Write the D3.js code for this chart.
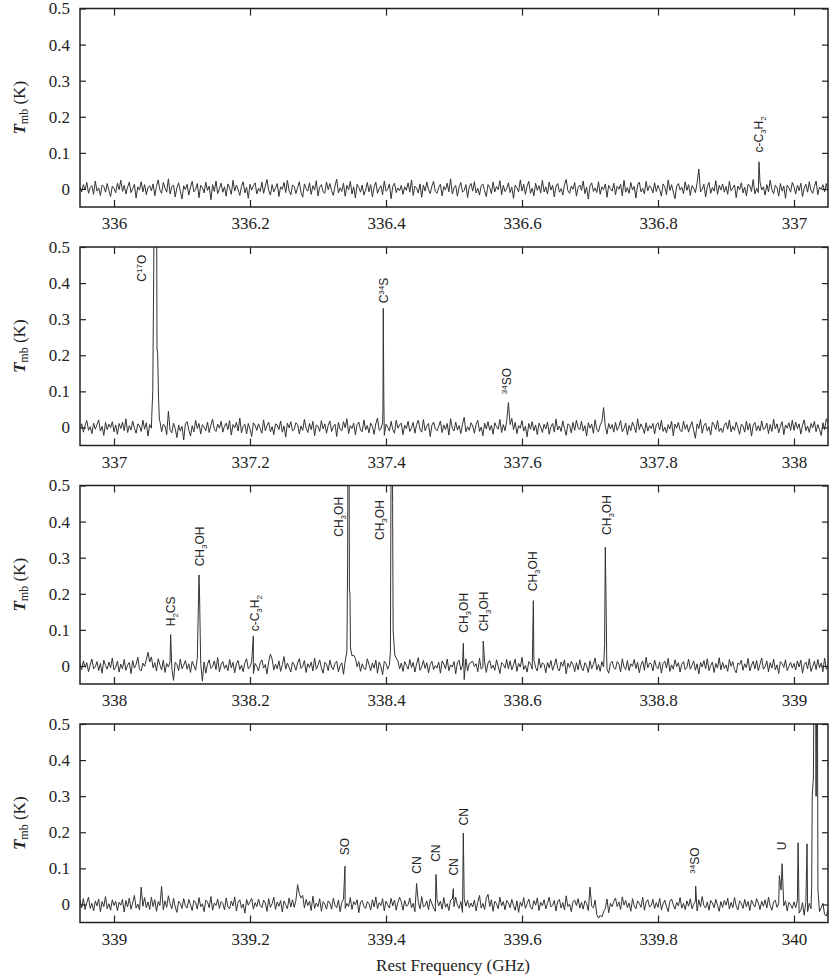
<!DOCTYPE html>
<html>
<head>
<meta charset="utf-8">
<script src="https://cdn.jsdelivr.net/npm/d3@7"></script>
<style>
body { margin: 0; background: #fff; }
.tick line { stroke: #222; stroke-width: 1.2; }
.mol { font-family: "Liberation Sans", Arial, sans-serif; font-size: 12px; fill: #222; }
.ttl { font-family: "Liberation Serif", "Times New Roman", serif; font-size: 17px; fill: #222; }
</style>
</head>
<body>
<svg id="chart" width="830" height="978"></svg>
<script>
// panel start frequency (GHz), channel step of the noise arrays
var panelStart = [335.95, 336.95, 337.95, 338.95];
var step = 0.0025;

// baseline noise, mK, one value per channel
var noise1 = [
5,-8,12,-3,18,-12,4,9,-15,22,-6,3,-18,11,7,-9,15,-4,-21,8,2,
-11,16,-2,24,-7,10,-14,5,19,-10,1,13,-25,6,-3,20,-8,12,-16,4,9,
-5,14,-19,7,25,-3,-12,18,2,-9,28,-14,6,11,-22,3,17,-6,-28,9,-2,
13,-17,5,21,-8,-1,15,-24,10,4,-11,19,-4,8,-30,12,-7,22,-13,1,16,
-9,6,-20,14,3,-15,24,-6,11,-2,-18,7,20,-11,5,-26,13,-3,9,17,-14,
2,-7,19,-12,8,26,-4,-17,12,-8,3,15,-21,6,-1,18,-10,24,-5,-16,11,
7,-13,4,20,-9,-23,14,1,-6,17,-15,9,-3,23,-19,5,12,-8,-12,19,-2,
15,-5,-18,8,27,-11,3,-7,16,-20,10,-2,21,-14,6,-25,13,4,-9,11,-17,
-3,18,-8,12,-22,5,19,-12,1,9,-16,22,-6,-1,14,-27,7,16,-10,3,-5,
10,-15,6,-4,17,-9,25,-18,8,2,-11,14,-23,11,-6,19,-2,-13,8,21,-7,
-12,4,13,-19,7,-3,16,-8,28,-14,3,10,-20,5,18,-9,-4,12,-24,6,15,
-6,20,-11,2,-17,9,14,-5,-21,12,4,-13,19,-8,7,-2,23,-16,10,-7,1,
17,-10,5,-26,11,3,-8,25,-6,13,-15,8,21,-12,2,-19,16,-4,9,-11,24,
-8,6,-14,19,-3,10,-22,7,15,-9,1,-17,12,26,-5,-12,8,-1,18,-20,4,
11,-4,22,-13,5,-28,9,17,-7,3,-10,20,-15,6,-2,14,-23,10,1,-6,16,
-16,8,-1,13,-19,24,-9,4,-12,18,-3,7,-25,11,19,-8,2,-14,21,-5,9,
3,-11,17,-7,10,-2,-20,14,6,-16,25,-4,12,-9,-27,8,15,-3,5,-13,20,
-4,12,-18,9,2,-10,16,55,-8,-1,13,-22,6,18,-12,4,-6,23,-15,10,-3,
14,-9,7,-15,21,-5,3,11,-24,8,-2,17,-11,5,-19,13,9,-7,26,-14,2,
-10,19,-3,6,-17,12,-8,24,-2,-13,10,4,-20,15,-6,8,-26,11,3,-9,18,
6,-14,10,-5,16,-21,2,13,-9,20,-4,-12,7,22,-16,5,-1,12,-8,15,-6
];
var noise2 = [
-4,10,-13,6,19,-8,2,-17,12,-5,8,21,-10,3,-22,14,-6,9,-1,16,-12,
7,-19,11,-3,15,-9,24,-14,5,-7,18,-2,-16,10,4,-11,20,-5,13,-24,8,
-2,14,25,30,-6,18,-12,9,4,-20,45,-8,-15,12,-3,-28,7,-10,3,-35,10,
16,-7,-24,5,-12,20,-3,11,-18,8,1,-9,15,-14,6,23,-5,-11,9,-2,17,
-13,4,12,-6,19,-21,8,-1,14,-10,26,-15,3,9,-18,11,-4,-25,13,6,-8,
10,-3,-16,21,-9,5,15,-12,2,-20,10,7,-6,18,-13,4,-27,12,-1,16,-10,
-5,13,8,-18,4,-8,22,-2,-14,11,-6,17,-23,7,3,-11,19,-4,10,-16,6,
18,-11,2,9,-25,14,-5,-9,16,-1,24,-17,5,-3,12,-20,8,15,-7,-12,21,
-7,5,-15,12,3,-19,10,26,-8,-4,13,-22,9,1,-10,17,-6,-16,20,-2,7,
12,-20,6,-3,17,-11,-1,14,-16,8,20,-5,-13,22,-9,4,11,-25,6,15,-4,
-9,3,18,-14,7,-6,11,-21,24,-2,-10,15,-7,5,-17,9,28,-12,2,-8,13,
4,-16,9,20,-11,1,-23,12,-4,16,-8,6,-19,13,2,-5,22,-14,8,-9,17,
-12,8,25,-6,14,-17,5,-2,19,-10,3,-26,11,-5,16,-9,7,-20,12,1,-14,
9,-4,15,-19,2,11,-13,23,-7,4,-11,18,-3,-22,10,6,-15,14,-8,20,-1,
-6,17,-10,5,-24,13,-2,9,-16,21,-5,-12,7,16,55,3,-18,11,-4,8,-13,
14,-8,3,19,-12,-3,12,-20,6,-9,15,2,-14,24,-6,10,-1,-17,13,-10,5,
-3,11,-18,7,13,-7,20,-11,1,-15,8,-4,17,-23,9,-2,14,-8,-12,18,-5,
8,-13,4,16,-9,-30,10,-3,22,-16,5,12,-10,2,-21,15,7,-6,19,-11,-2,
-14,6,13,-5,21,-12,3,-8,15,-1,-19,9,4,-13,17,-7,11,-24,6,14,-9,
5,-10,18,-6,-2,12,-17,8,-11,23,-4,10,-15,3,16,-20,7,-2,13,-8,20,
-8,15,-3,10,-18,6,21,-9,4,-14,11,-1,17,-12,8,-5,-22,13,-6,24,10
];
var noise3 = [
6,-10,14,-4,9,-16,3,19,-8,-2,12,-13,7,-20,16,1,-9,11,-5,22,-11,
-3,13,-17,5,-8,18,-12,2,10,-21,15,-6,4,24,-9,-14,8,-1,17,38,11,
25,-5,9,-14,20,3,-11,16,-18,7,-3,12,-6,-40,10,4,-13,19,-8,2,15,
-9,6,-18,13,1,-12,21,-4,8,-42,11,-20,5,17,-7,-2,14,-10,23,-16,4,
12,-7,3,-13,18,-5,10,-19,6,15,-10,2,-16,9,20,-8,-3,13,-21,7,-1,
-14,9,17,-6,4,-22,12,33,19,-11,5,-8,14,-15,3,26,-9,8,-4,-17,11,
3,-12,8,20,-7,-1,15,-18,6,-4,11,-14,22,-9,2,17,-6,-20,10,5,-13,
16,-3,-10,7,13,-16,1,9,-23,14,-30,18,35,28,30,21,-2,12,-15,6,-7,
-10,20,4,-13,8,-6,16,-20,11,-1,-24,13,7,-9,3,-15,10,40,22,14,-8,
8,-15,12,2,-9,18,-4,10,-17,6,23,-12,-2,15,-7,9,-19,4,13,-10,1,
-6,11,-20,14,5,-8,19,-13,3,-3,12,-22,9,16,-11,2,-38,20,-14,7,10,
13,-2,6,-16,21,-9,-4,11,-18,8,15,-7,2,-12,17,-1,-21,9,4,-6,18,
-8,14,-11,3,19,-15,7,-3,24,-10,1,-17,12,6,-9,16,-4,-14,21,-6,9,
4,-19,10,-5,15,-12,2,20,-7,-14,11,-1,17,-22,8,-4,13,3,-16,9,-11,
17,-6,-13,9,1,-18,14,-8,5,22,-11,4,-15,12,-3,19,-9,-20,7,13,-4,
-9,12,5,-17,20,-3,-10,15,-13,6,-1,18,-7,10,-19,3,14,-12,24,-5,8,
6,-14,16,-2,-8,11,-20,7,13,-6,21,-15,3,-9,17,-2,9,-17,5,12,-10,
-4,19,-9,2,14,-12,6,-22,10,-3,15,-8,20,-13,1,11,-18,7,-6,23,-11,
10,-7,3,-15,18,-1,12,-10,-19,8,4,16,-12,6,-5,21,-14,2,13,-8,15,
-13,5,22,-9,-2,14,-16,9,-6,19,-11,3,-21,12,7,-4,17,-13,-1,10,-6,
7,-11,14,-3,16,-20,4,11,-8,20,-15,-2,13,-10,18,-5,8,-16,22,-9,3
];
var noise4 = [
12,-9,16,-14,5,20,-11,3,-18,10,-4,15,-20,8,-6,22,-12,2,-16,13,-3,
9,-17,6,-2,14,-21,11,-7,18,-13,4,25,-10,1,-15,48,-5,19,-9,7,-14,
20,-6,13,-19,8,-3,50,-15,10,-8,24,2,-12,17,-7,-22,9,3,-11,16,-4,
-10,14,-1,-17,11,5,-13,19,-6,2,-20,12,7,-9,22,-16,4,-3,15,-11,8,
3,-15,18,-7,-12,9,-4,21,-18,6,13,-10,1,-24,14,-2,8,17,-13,5,-6,
15,-3,-9,12,4,-19,16,-8,2,20,-14,7,-5,11,-21,10,-1,-12,18,-7,13,
-8,11,55,30,18,25,-10,14,-3,9,-17,23,-11,4,-6,16,-19,8,1,-13,10,
4,-13,17,-2,-9,12,-20,6,15,-11,3,-6,19,-14,8,-1,13,-23,7,11,-5,
-11,8,2,-15,13,-7,21,-12,5,-3,16,-18,9,-1,-10,17,-4,12,-16,6,20,
7,-16,11,-5,-1,18,-9,3,-20,13,6,-12,22,-7,-3,10,-14,15,2,-10,-19,
14,-4,9,-13,19,-8,2,-17,12,15,-6,20,-2,-11,8,-22,16,-5,11,-9,4,
-7,12,-18,6,25,-10,3,-14,17,28,-6,13,-19,9,2,-12,20,-4,8,-15,11,
5,-9,14,-3,-16,10,-22,7,-5,19,-11,2,15,-8,-13,11,-2,18,-17,6,-4,
13,-12,3,20,-7,-2,11,-18,9,14,-10,5,-15,24,-6,1,-20,8,12,-3,16,
-10,6,-13,10,2,-17,48,-5,-9,12,-28,-38,-30,-35,-20,-11,15,-23,3,-6,9,
18,-6,7,-14,21,-2,11,-9,4,-19,16,-4,-12,10,3,-8,20,-16,6,13,-7,
-3,14,-11,5,-8,17,-15,2,12,-6,-20,9,15,-1,-13,6,-4,19,-10,3,-14,
10,-5,16,-12,1,9,-18,13,-7,22,-3,-10,7,-16,11,4,-9,14,-2,-19,8,
-8,11,-2,17,-13,6,-9,19,-4,-15,10,3,-11,14,-6,8,-17,12,1,-7,16,
4,-14,9,-5,13,-10,20,-3,-16,7,12,-8,2,-12,15,-4,10,-18,6,-1,-11,
7,-9,12,-24,-16,5,-30,8,-20,3,-12,-8,10,-4,6,-20,-9,3,-28,-32,-15
];

// emission lines: groups of [GHz, K] profile points
var peaks1 = [
  [[336.9485, 0.075]]
];
var peaks2 = [
  [[337.0555, 0.03], [337.057, 0.10], [337.0585, 0.45], [337.0595, 0.8], [337.0625, 0.8], [337.0632, 0.22], [337.0642, 0.205], [337.0655, 0.08], [337.0668, 0.02]],
  [[337.3955, 0.05], [337.396, 0.33], [337.3968, 0.08]],
  [[337.58, 0.069]]
];
var peaks3 = [
  [[338.0833, 0.087]],
  [[338.125, 0.252], [338.1258, 0.2]],
  [[338.2049, 0.083]],
  [[338.3425, 0.04], [338.3436, 0.3], [338.3443, 0.8], [338.3455, 0.8], [338.3462, 0.21], [338.347, 0.2], [338.3478, 0.05]],
  [[338.4065, 0.04], [338.4075, 0.6], [338.408, 0.9], [338.4093, 0.9], [338.4097, 0.45], [338.4105, 0.1], [338.4118, 0.06], [338.413, 0.03]],
  [[338.5137, 0.0625]],
  [[338.543, 0.069]],
  [[338.6167, 0.181]],
  [[338.7215, 0.06], [338.7225, 0.329], [338.7235, 0.2], [338.7245, 0.03]]
];
var peaks4 = [
  [[339.3397, 0.106]],
  [[339.445, 0.058]],
  [[339.4735, 0.083]],
  [[339.499, 0.044]],
  [[339.5137, 0.198]],
  [[339.8554, 0.051]],
  [[339.9785, 0.08], [339.981, 0.04], [339.9825, 0.113]],
  [[340.006, 0.171]],
  [[340.0192, 0.168]],
  [[340.026, 0.05], [340.0268, 0.3], [340.0285, 0.35], [340.030, 0.8], [340.0318, 0.8], [340.0322, 0.3], [340.0328, 0.3], [340.0334, 0.8], [340.0342, 0.8], [340.0352, 0.04]]
];

// line identifications: text, GHz where the label sits, K at its lower end
var labels1 = [["c-C_3H_2", 336.9485, 0.101]];
var labels2 = [["C^{17}O", 337.0407, 0.404], ["C^{34}S", 337.396, 0.344], ["^{34}SO", 337.578, 0.092]];
var labels3 = [
  ["H_2CS", 338.0833, 0.11], ["CH_3OH", 338.1255, 0.276], ["c-C_3H_2", 338.2074, 0.096],
  ["CH_3OH", 338.3299, 0.358], ["CH_3OH", 338.3912, 0.349], ["CH_3OH", 338.5137, 0.092],
  ["CH_3OH", 338.543, 0.096], ["CH_3OH", 338.6155, 0.207], ["CH_3OH", 338.7246, 0.363]
];
var labels4 = [
  ["SO", 339.3397, 0.136], ["CN", 339.445, 0.085], ["CN", 339.4735, 0.118], ["CN", 339.499, 0.08],
  ["CN", 339.5137, 0.219], ["^{34}SO", 339.8544, 0.085], ["U", 339.9819, 0.15]
];

var xTicks1 = [336, 336.2, 336.4, 336.6, 336.8, 337];
var xTicks2 = [337, 337.2, 337.4, 337.6, 337.8, 338];
var xTicks3 = [338, 338.2, 338.4, 338.6, 338.8, 339];
var xTicks4 = [339, 339.2, 339.4, 339.6, 339.8, 340];
var yTicks = [0, 0.1, 0.2, 0.3, 0.4, 0.5];

var panels = [
  {noise: noise1, peaks: peaks1, labels: labels1, ticks: xTicks1},
  {noise: noise2, peaks: peaks2, labels: labels2, ticks: xTicks2},
  {noise: noise3, peaks: peaks3, labels: labels3, ticks: xTicks3},
  {noise: noise4, peaks: peaks4, labels: labels4, ticks: xTicks4}
];

var svg = d3.select("#chart");
var left = 80, right = 828, top0 = 8.5, gap = 238.5, h = 198.5;
var serif = "Liberation Serif";

function spectrum(start, noise, peaks) {
  var pts = noise.map(function(v, i) { return [start + i * step, v / 1000]; });
  peaks.forEach(function(grp) {
    var f0 = grp[0][0], f1 = grp[grp.length - 1][0];
    pts = pts.filter(function(p) { return p[0] < f0 || p[0] > f1; });
    pts = pts.concat(grp);
  });
  return pts.sort(function(a, b) { return a[0] - b[0]; });
}

function addLabel(g, str) {
  var parts = str.match(/(_\w|\^\{\w+\}|[^_^]+)/g);
  var t = g.append("text").attr("class", "mol");
  var shift = 0;
  parts.forEach(function(p) {
    var s = t.append("tspan");
    if (p[0] === "_") { s.text(p.slice(1)).attr("font-size", 8).attr("dy", 3 - shift); shift = 3; }
    else if (p[0] === "^") { s.text(p.slice(2, -1)).attr("font-size", 8).attr("dy", -4 - shift); shift = -4; }
    else { if (shift) s.attr("dy", -shift); s.text(p); shift = 0; }
  });
}

// strip the axis line, put tick labels in the serif face
function tidy(g) {
  g.select(".domain").remove();
  g.attr("font-family", serif).attr("font-size", 17);
  g.selectAll("text").attr("class", "ttl").attr("fill", "#222");
}

panels.forEach(function(pn, k) {
  var start = panelStart[k];
  var ty = top0 + k * gap;
  var x = d3.scaleLinear().domain([start, start + 1.1]).range([left, right]);
  var y = d3.scaleLinear().domain([-0.05, 0.5]).range([ty + h, ty]);

  svg.append("clipPath").attr("id", "clip" + k)
    .append("rect").attr("x", left).attr("y", ty).attr("width", right - left).attr("height", h);

  var line = d3.line().x(function(d) { return x(d[0]); }).y(function(d) { return y(d[1]); });
  svg.append("path")
    .datum(spectrum(start, pn.noise, pn.peaks))
    .attr("clip-path", "url(#clip" + k + ")")
    .attr("fill", "none").attr("stroke", "#333").attr("stroke-width", 1)
    .attr("d", line);

  var fmt = function(d) { return String(+d.toFixed(1)); };
  svg.append("g").attr("transform", "translate(0," + (ty + h) + ")")
    .call(d3.axisBottom(x).tickValues(pn.ticks).tickFormat(fmt).tickSize(-7).tickSizeOuter(0).tickPadding(10))
    .call(tidy);
  svg.append("g").attr("transform", "translate(0," + ty + ")")
    .call(d3.axisTop(x).tickValues(pn.ticks).tickFormat("").tickSize(-7).tickSizeOuter(0))
    .call(tidy);
  svg.append("g").attr("transform", "translate(" + left + ",0)")
    .call(d3.axisLeft(y).tickValues(yTicks).tickFormat(function(d) { return d === 0 ? "0" : d.toFixed(1); }).tickSize(-6).tickSizeOuter(0).tickPadding(10))
    .call(tidy);
  svg.append("g").attr("transform", "translate(" + right + ",0)")
    .call(d3.axisRight(y).tickValues(yTicks).tickFormat("").tickSize(-6).tickSizeOuter(0))
    .call(tidy);

  svg.append("rect").attr("x", left).attr("y", ty).attr("width", right - left).attr("height", h)
    .attr("fill", "none").attr("stroke", "#222").attr("stroke-width", 1.5);

  pn.labels.forEach(function(l) {
    var g = svg.append("g").attr("transform", "translate(" + (x(l[1]) + 4.3) + "," + y(l[2]) + ") rotate(-90)");
    addLabel(g, l[0]);
  });

  var t = svg.append("text").attr("class", "ttl").attr("text-anchor", "middle")
    .attr("transform", "translate(25," + (ty + h / 2) + ") rotate(-90)");
  t.append("tspan").attr("font-weight", "bold").attr("font-style", "italic").text("T");
  t.append("tspan").attr("font-size", 12).attr("dy", 3).text("mb");
  t.append("tspan").attr("dy", -3).text(" (K)");
});

svg.append("text").attr("class", "ttl").attr("text-anchor", "middle")
  .attr("x", 453).attr("y", 971).text("Rest Frequency (GHz)");
</script>
</body>
</html>
